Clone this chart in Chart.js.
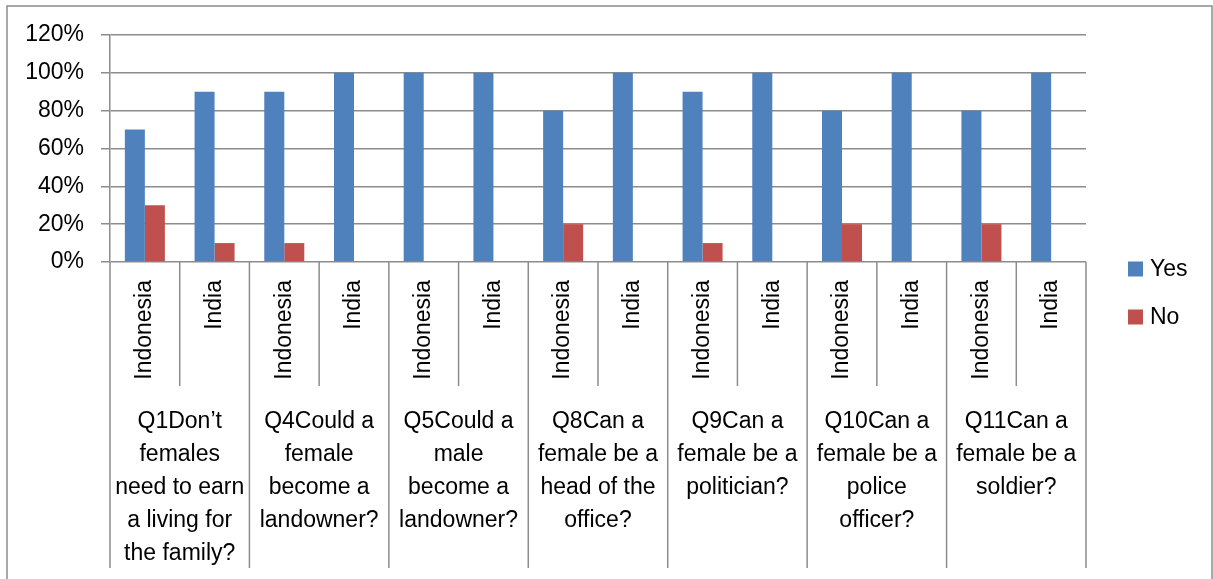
<!DOCTYPE html>
<html>
<head>
<meta charset="utf-8">
<script src="https://cdn.jsdelivr.net/npm/chart.js@4.4.0/dist/chart.umd.min.js"></script>
<style>
  html, body { margin: 0; padding: 0; background: #fff; }
  #wrap { width: 1213px; height: 579px; position: relative; }
</style>
</head>
<body>
<div id="wrap"><canvas id="myChart"></canvas></div>
<script>
const countries = ['Indonesia', 'India', 'Indonesia', 'India', 'Indonesia', 'India', 'Indonesia', 'India',
    'Indonesia', 'India', 'Indonesia', 'India', 'Indonesia', 'India'];
const questions = [
    ['Q1Don\u2019t', 'females', 'need to earn', 'a living for', 'the family?'],
    ['Q4Could a', 'female', 'become a', 'landowner?'],
    ['Q5Could a', 'male', 'become a', 'landowner?'],
    ['Q8Can a', 'female be a', 'head of the', 'office?'],
    ['Q9Can a', 'female be a', 'politician?'],
    ['Q10Can a', 'female be a', 'police', 'officer?'],
    ['Q11Can a', 'female be a', 'soldier?']
];
const yesValues = [0.7, 0.9, 0.9, 1, 1, 1, 0.8, 1, 0.9, 1, 0.8, 1, 0.8, 1];
const noValues = [0.3, 0.1, 0.1, 0, 0, 0, 0.2, 0, 0.1, 0, 0.2, 0, 0.2, 0];
const seriesNames = ['Yes', 'No'];
const seriesColors = ['#4f81bd', '#c0504d'];

const FONT = '"Liberation Sans", Arial, sans-serif';
const GRID = '#8c8c8c';

// excel style two level axis, frame and legend
const excelAxis = {
    id: 'excelAxis',
    beforeDraw(chart) {
        const c = chart.ctx;
        c.save();
        c.strokeStyle = GRID;
        c.lineWidth = 1.5;
        c.strokeRect(7, 6, 1205, 600);
        c.restore();
    },
    afterDraw(chart) {
        const c = chart.ctx;
        const xs = chart.scales.x;
        const area = chart.chartArea;
        const half = (area.right - area.left) / countries.length / 2;
        const bottom = area.bottom;
        c.save();
        c.strokeStyle = GRID;
        c.lineWidth = 1.5;
        // dividers
        for (let i = 0; i <= countries.length; i++) {
            const x = i < countries.length ? xs.getPixelForValue(i) - half : xs.getPixelForValue(i - 1) + half;
            const end = i % 2 === 0 ? 568 : 386;
            c.beginPath();
            c.moveTo(x, bottom);
            c.lineTo(x, end);
            c.stroke();
        }
        // country labels
        c.fillStyle = '#000';
        c.font = '23px ' + FONT;
        c.textAlign = 'right';
        c.textBaseline = 'middle';
        countries.forEach((name, i) => {
            c.save();
            c.translate(xs.getPixelForValue(i), bottom + 18);
            c.rotate(-Math.PI / 2);
            c.fillText(name, 0, 0);
            c.restore();
        });
        // question labels
        c.textAlign = 'center';
        questions.forEach((lines, g) => {
            const cx = (xs.getPixelForValue(g * 2) + xs.getPixelForValue(g * 2 + 1)) / 2;
            lines.forEach((line, k) => {
                c.fillText(line, cx, 422 + k * 33);
            });
        });
        // legend
        c.textAlign = 'left';
        seriesNames.forEach((name, i) => {
            const y = 269 + i * 48;
            c.fillStyle = seriesColors[i];
            c.fillRect(1128, y - 7.5, 15, 15);
            c.fillStyle = '#000';
            c.fillText(name, 1150, y + 1);
        });
        c.restore();
    }
};

const myChart = new Chart(document.getElementById('myChart'), {
    type: 'bar',
    data: {
        labels: countries,
        datasets: [
            { label: seriesNames[0], data: yesValues, backgroundColor: seriesColors[0] },
            { label: seriesNames[1], data: noValues, backgroundColor: seriesColors[1] }
        ]
    },
    options: {
        responsive: true,
        maintainAspectRatio: false,
        animation: false,
        datasets: { bar: { categoryPercentage: 0.574, barPercentage: 1 } },
        layout: { padding: { left: 0, top: 35, right: 127, bottom: 0 } },
        plugins: { legend: { display: false }, tooltip: { enabled: false } },
        scales: {
            x: {
                grid: { display: false },
                border: { display: false },
                ticks: { display: false },
                afterFit(scale) { scale.height = 317; }
            },
            y: {
                min: 0,
                max: 1.2,
                ticks: {
                    stepSize: 0.2,
                    color: '#000',
                    padding: 17,
                    font: { family: FONT, size: 23 },
                    callback: v => Math.round(v * 100) + '%'
                },
                grid: { color: GRID, lineWidth: 1.5, tickLength: 9 },
                border: { color: GRID, width: 1.5 },
                afterFit(scale) { scale.width = 110; }
            }
        }
    },
    plugins: [excelAxis]
});
</script>
</body>
</html>
